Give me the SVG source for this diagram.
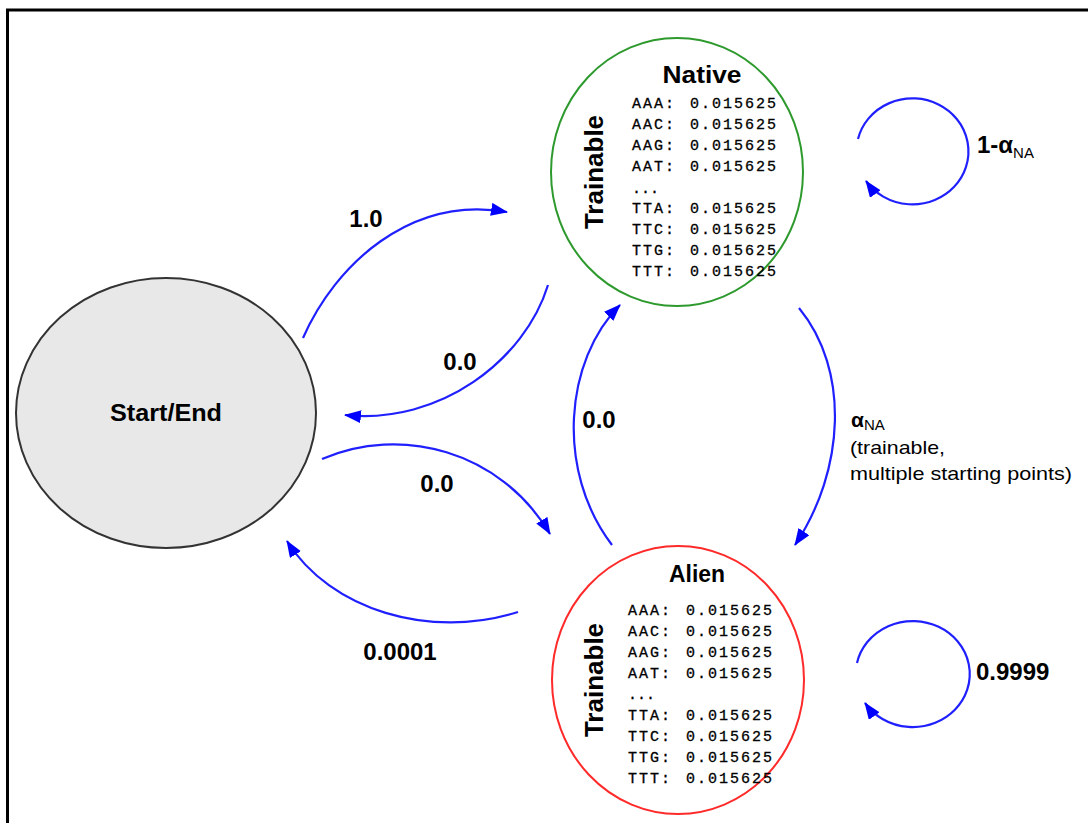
<svg xmlns="http://www.w3.org/2000/svg" width="1088" height="823" viewBox="0 0 1088 823">
<style>
.lbl{font-family:"Liberation Sans",Arial,sans-serif;font-weight:bold;font-size:24px;fill:#000}
.title{font-family:"Liberation Sans",Arial,sans-serif;font-weight:bold;font-size:24px;fill:#000;text-anchor:middle}
.vert{font-family:"Liberation Sans",Arial,sans-serif;font-weight:bold;font-size:26px;fill:#000;text-anchor:middle}
.tab{font-family:"Liberation Mono","DejaVu Sans Mono",monospace;font-size:15px;letter-spacing:2px;fill:#000;stroke:#000;stroke-width:0.3}
.reg{font-family:"Liberation Sans",Arial,sans-serif;font-size:19px;fill:#000}
.sub{font-family:"Liberation Sans",Arial,sans-serif;font-size:15px;fill:#000}
.conn{fill:none;stroke:#2020ff;stroke-width:2.2}
</style>
<defs>
<marker id="ah" markerUnits="userSpaceOnUse" markerWidth="19" markerHeight="15" refX="16" refY="6.5" orient="auto">
<path d="M0,0 L17,6.5 L0,13 Z" fill="#0000ff"/>
</marker>
</defs>
<rect width="1088" height="823" fill="#fff"/>
<path d="M7.5,823 L7.5,10 L1088,10" fill="none" stroke="#000" stroke-width="3"/>

<g id="connectors">
<path class="conn" d="M303,338 C335,265 410,195 507,212" marker-end="url(#ah)"/>
<path class="conn" d="M548,285 C525,360 440,425 345,415" marker-end="url(#ah)"/>
<path class="conn" d="M322,459 C400,425 500,450 550,534" marker-end="url(#ah)"/>
<path class="conn" d="M518,612 C430,640 330,610 287,541" marker-end="url(#ah)"/>
<path class="conn" d="M612,545 C555,470 565,360 620,305" marker-end="url(#ah)"/>
<path class="conn" d="M799,308 C850,370 845,470 795,545" marker-end="url(#ah)"/>
<path class="conn" d="M858,139 A56,53 0 1 1 866,181" marker-end="url(#ah)"/>
<path class="conn" d="M857,663 A57,53 0 1 1 865,703" marker-end="url(#ah)"/>
<text class="lbl" x="366" y="227" text-anchor="middle">1.0</text>
<text class="lbl" x="460" y="370" text-anchor="middle">0.0</text>
<text class="lbl" x="437" y="492" text-anchor="middle">0.0</text>
<text class="lbl" x="400" y="660" text-anchor="middle">0.0001</text>
<text class="lbl" x="599" y="428" text-anchor="middle">0.0</text>
<text class="lbl" x="976" y="680">0.9999</text>
<text x="977" y="153"><tspan class="lbl">1-α</tspan><tspan class="sub" dy="5">NA</tspan></text>
<text x="851" y="427"><tspan class="lbl" style="font-size:21px">α</tspan><tspan class="sub" dy="3">NA</tspan></text>
<text class="reg" x="850" y="454" textLength="95" lengthAdjust="spacingAndGlyphs">(trainable,</text>
<text class="reg" x="850" y="480" textLength="222" lengthAdjust="spacingAndGlyphs">multiple starting points)</text>
</g>

<g id="start-end">
<ellipse cx="166" cy="413" rx="150" ry="135" fill="#e8e8e8" stroke="#333" stroke-width="2"/>
<text class="title" x="166" y="421" textLength="112" lengthAdjust="spacingAndGlyphs">Start/End</text>
</g>

<g id="native">
<ellipse cx="677" cy="172" rx="126" ry="134" fill="#fff" stroke="#2e9a2e" stroke-width="2"/>
<text class="title" x="702" y="83" textLength="79" lengthAdjust="spacingAndGlyphs">Native</text>
<text class="vert" transform="translate(603,172) rotate(-90)">Trainable</text>
<g class="tab">
<text x="632" y="108">AAA:</text><text x="690" y="108">0.015625</text>
<text x="632" y="129">AAC:</text><text x="690" y="129">0.015625</text>
<text x="632" y="150">AAG:</text><text x="690" y="150">0.015625</text>
<text x="632" y="171">AAT:</text><text x="690" y="171">0.015625</text>
<text x="632" y="193" style="letter-spacing:0">...</text>
<text x="632" y="213">TTA:</text><text x="690" y="213">0.015625</text>
<text x="632" y="234">TTC:</text><text x="690" y="234">0.015625</text>
<text x="632" y="255">TTG:</text><text x="690" y="255">0.015625</text>
<text x="632" y="276">TTT:</text><text x="690" y="276">0.015625</text>
</g>
</g>

<g id="alien">
<ellipse cx="678" cy="680" rx="126" ry="134" fill="#fff" stroke="#ff2a2a" stroke-width="2"/>
<text class="title" x="697" y="582" textLength="56" lengthAdjust="spacingAndGlyphs">Alien</text>
<text class="vert" transform="translate(603,680) rotate(-90)">Trainable</text>
<g class="tab">
<text x="628" y="615">AAA:</text><text x="686" y="615">0.015625</text>
<text x="628" y="636">AAC:</text><text x="686" y="636">0.015625</text>
<text x="628" y="657">AAG:</text><text x="686" y="657">0.015625</text>
<text x="628" y="678">AAT:</text><text x="686" y="678">0.015625</text>
<text x="628" y="699" style="letter-spacing:0">...</text>
<text x="628" y="720">TTA:</text><text x="686" y="720">0.015625</text>
<text x="628" y="741">TTC:</text><text x="686" y="741">0.015625</text>
<text x="628" y="762">TTG:</text><text x="686" y="762">0.015625</text>
<text x="628" y="783">TTT:</text><text x="686" y="783">0.015625</text>
</g>
</g>
</svg>
